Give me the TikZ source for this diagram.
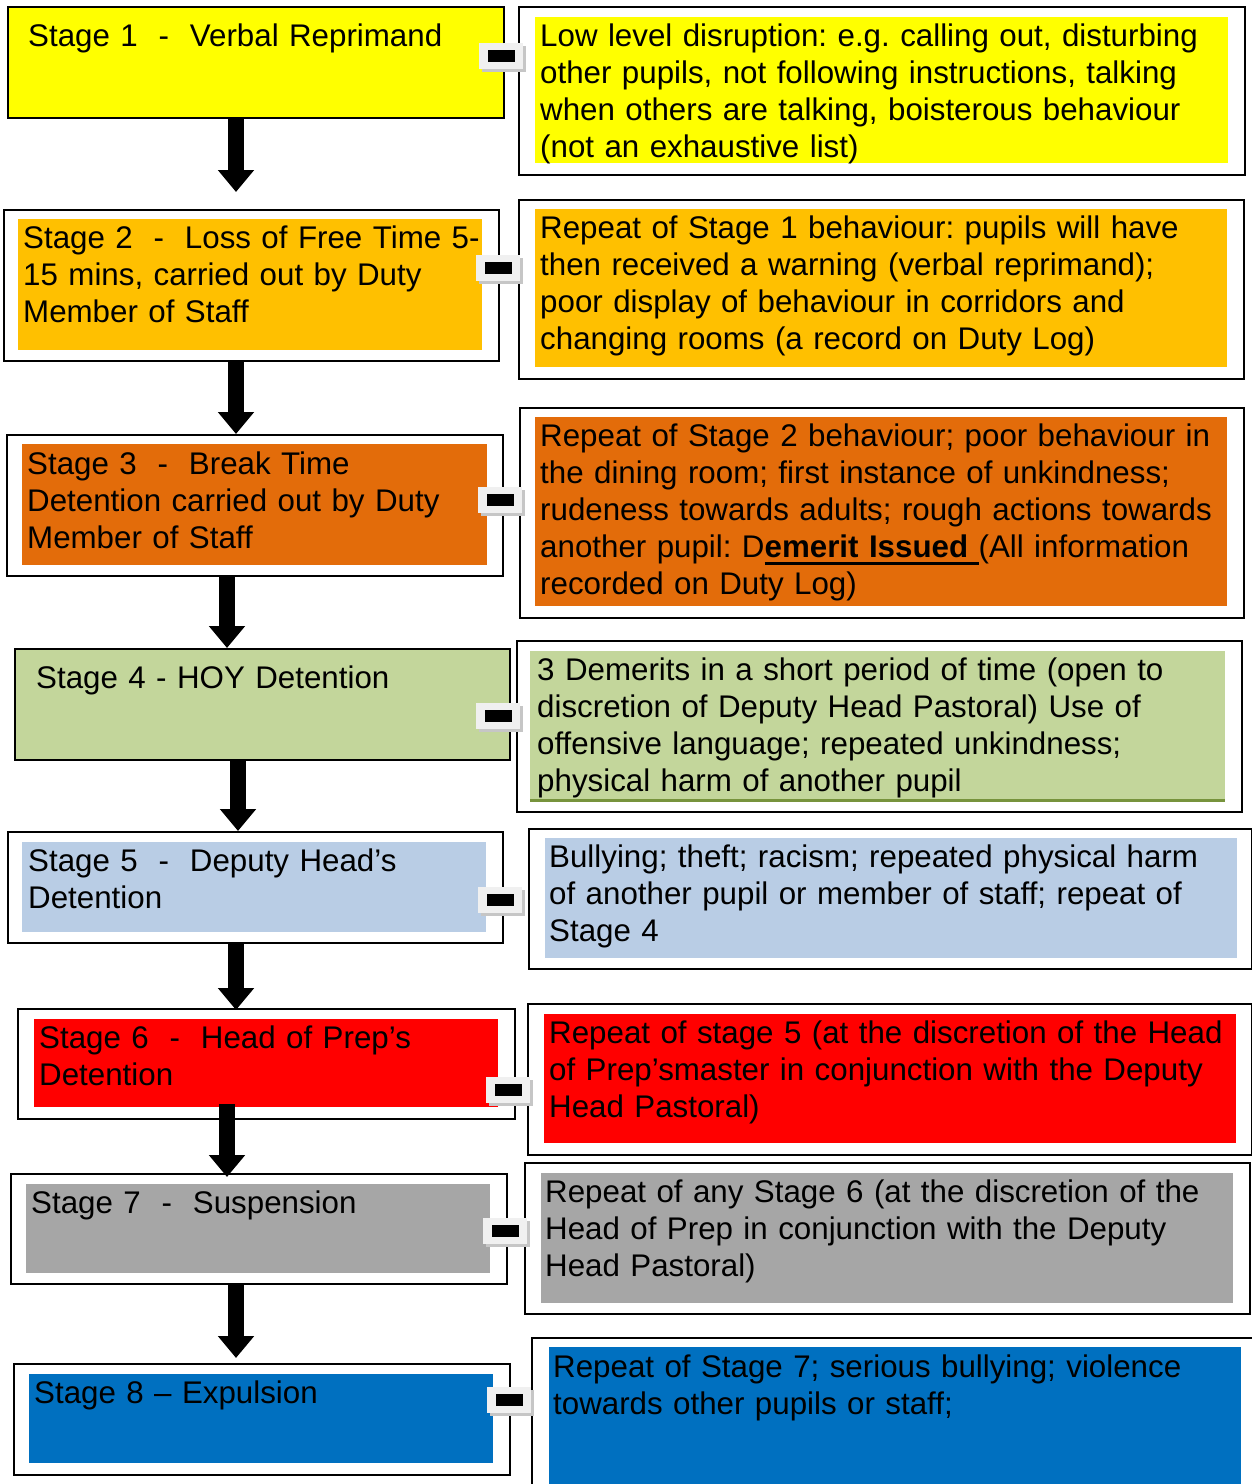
\documentclass[tikz,border=0pt]{standalone}
\usepackage{fontspec}
\setmainfont{Liberation Sans}
\usetikzlibrary{arrows.meta, shadows}

\definecolor{stageyellow}{HTML}{FFFF00}
\definecolor{stageamber}{HTML}{FFC000}
\definecolor{stageorange}{HTML}{E36C0A}
\definecolor{stagegreen}{HTML}{C3D69B}
\definecolor{stageolive}{HTML}{77933C}
\definecolor{stagesky}{HTML}{B9CDE5}
\definecolor{stagered}{HTML}{FF0000}
\definecolor{stagegray}{HTML}{A6A6A6}
\definecolor{stageblue}{HTML}{0070C0}

\newcommand{\undl}[1]{\setbox0\hbox{#1}\rlap{\rule[-8pt]{\wd0}{3pt}}\box0}
\frenchspacing

\begin{document}
\begin{tikzpicture}[x=1pt, y=-1pt,
  frame/.style={draw, line width=2pt, anchor=north west, inner sep=0pt},
  txt/.style={anchor=base west, inner sep=0pt, text width=720pt, align=left,
    font=\fontsize{31.3}{37}\selectfont},
  down/.style={line width=16pt, -{Triangle[width=35pt, length=22pt]}},
  minusbox/.style={fill=gray!12, minimum width=44pt, minimum height=26pt, inner sep=0pt,
    drop shadow={shadow xshift=3pt, shadow yshift=-3pt, fill=gray!45, opacity=1}}]

\useasboundingbox (0,0) rectangle (1252,1484);
\clip (0,0) rectangle (1252,1484);

% left column
\node[frame, fill=stageyellow, minimum width=496pt, minimum height=111pt] (s1) at (7,6) {};
\node[frame, fill=white, minimum width=495pt, minimum height=151pt] (s2) at (3,209) {};
\fill[stageamber] (18,219) rectangle (482,350);
\node[frame, fill=white, minimum width=496pt, minimum height=141pt] (s3) at (6,434) {};
\fill[stageorange] (22,444) rectangle (487,565);
\node[frame, fill=stagegreen, minimum width=495pt, minimum height=111pt] (s4) at (14,648) {};
\node[frame, fill=white, minimum width=495pt, minimum height=111pt] (s5) at (7,831) {};
\fill[stagesky] (22,842) rectangle (486,932);
\node[frame, fill=white, minimum width=497pt, minimum height=110pt] (s6) at (17,1008) {};
\fill[stagered] (34,1019) rectangle (498,1107);
\node[frame, fill=white, minimum width=496pt, minimum height=110pt] (s7) at (10,1173) {};
\fill[stagegray] (26,1184) rectangle (490,1273);
\node[frame, fill=white, minimum width=496pt, minimum height=111pt] (s8) at (13,1363) {};
\fill[stageblue] (29,1374) rectangle (493,1463);

% right column
\node[frame, fill=white, minimum width=726pt, minimum height=168pt] (r1) at (518,6) {};
\fill[stageyellow] (535,17) rectangle (1228,163);
\node[frame, fill=white, minimum width=725pt, minimum height=179pt] (r2) at (518,199) {};
\fill[stageamber] (535,209) rectangle (1227,367);
\node[frame, fill=white, minimum width=724pt, minimum height=210pt] (r3) at (519,407) {};
\fill[stageorange] (535,417) rectangle (1227,606);
\node[frame, fill=white, minimum width=725pt, minimum height=171pt] (r4) at (516,640) {};
\fill[stagegreen] (530,651) rectangle (1225,800);
\draw[stageolive, line width=3pt] (530,800) -- (1225,800);
\node[frame, fill=white, minimum width=723pt, minimum height=140pt] (r5) at (528,828) {};
\fill[stagesky] (545,838) rectangle (1237,958);
\node[frame, fill=white, minimum width=724pt, minimum height=151pt] (r6) at (527,1003) {};
\fill[stagered] (544,1014) rectangle (1236,1143);
\node[frame, fill=white, minimum width=725pt, minimum height=151pt] (r7) at (524,1162) {};
\fill[stagegray] (541,1173) rectangle (1233,1303);
\node[frame, fill=white, minimum width=740pt, minimum height=170pt] (r8) at (531,1337) {};
\fill[stageblue] (549,1347) rectangle (1241,1490);

% stage texts
\node[txt] (t1) at (28,46) {Stage 1\ \ -\ \ Verbal Reprimand};
\node[txt] (t2) at (23,248) {Stage 2\ \ -\ \ Loss of Free Time 5-\\15 mins, carried out by Duty\\Member of Staff};
\node[txt] (t3) at (27,474) {Stage 3\ \ -\ \ Break Time\\Detention carried out by Duty\\Member of Staff};
\node[txt] (t4) at (36,688) {Stage 4 - HOY Detention};
\node[txt] (t5) at (28,871) {Stage 5\ \ -\ \ Deputy Head’s\\Detention};
\node[txt] (t6) at (39,1048) {Stage 6\ \ -\ \ Head of Prep’s\\Detention};
\node[txt] (t7) at (31,1213) {Stage 7\ \ -\ \ Suspension};
\node[txt] (t8) at (34,1403) {Stage 8 – Expulsion};

% behaviour texts
\node[txt] (b1) at (540,46) {Low level disruption: e.g. calling out, disturbing\\other pupils, not following instructions, talking\\when others are talking, boisterous behaviour\\(not an exhaustive list)};
\node[txt] (b2) at (540,238) {Repeat of Stage 1 behaviour: pupils will have\\then received a warning (verbal reprimand);\\poor display of behaviour in corridors and\\changing rooms (a record on Duty Log)};
\node[txt] (b3) at (540,446) {Repeat of Stage 2 behaviour; poor behaviour in\\the dining room; first instance of unkindness;\\rudeness towards adults; rough actions towards\\another pupil: D\undl{\textbf{emerit Issued}\ }(All information\\recorded on Duty Log)};
\node[txt] (b4) at (537,680) {3 Demerits in a short period of time (open to\\discretion of Deputy Head Pastoral) Use of\\offensive language; repeated unkindness;\\physical harm of another pupil};
\node[txt] (b5) at (549,867) {Bullying; theft; racism; repeated physical harm\\of another pupil or member of staff; repeat of\\Stage 4};
\node[txt] (b6) at (549,1043) {Repeat of stage 5 (at the discretion of the Head\\of Prep’smaster in conjunction with the Deputy\\Head Pastoral)};
\node[txt] (b7) at (545,1202) {Repeat of any Stage 6 (at the discretion of the\\Head of Prep in conjunction with the Deputy\\Head Pastoral)};
\node[txt] (b8) at (553,1377) {Repeat of Stage 7; serious bullying; violence\\towards other pupils or staff;};

% arrows down the stages
\draw[down, shorten >=17pt] (s1.south -| 236,0) -- (s2.north -| 236,0);
\draw[down] (s2.south -| 236,0) -- (s3.north -| 236,0);
\draw[down] (s3.south -| 227,0) -- (s4.north -| 227,0);
\draw[down] (s4.south -| 238,0) -- (s5.north -| 238,0);
\draw[down, shorten >=-2pt] (s5.south -| 236,0) -- (s6.north -| 236,0);
\draw[down, shorten <=-16pt, shorten >=-4pt] (s6.south -| 227,0) -- (s7.north -| 227,0);
\draw[down, shorten >=5pt] (s7.south -| 236,0) -- (s8.north -| 236,0);

% minus signs between the columns
\foreach \i/\x/\y in {1/501/56, 2/498/268, 3/500/500, 4/498/716,
                      5/500/900, 6/508/1090, 7/505/1231, 8/509/1400}
  \node[minusbox] (m\i) at (\x,\y) {\rule{27pt}{12pt}};

\end{tikzpicture}
\end{document}
